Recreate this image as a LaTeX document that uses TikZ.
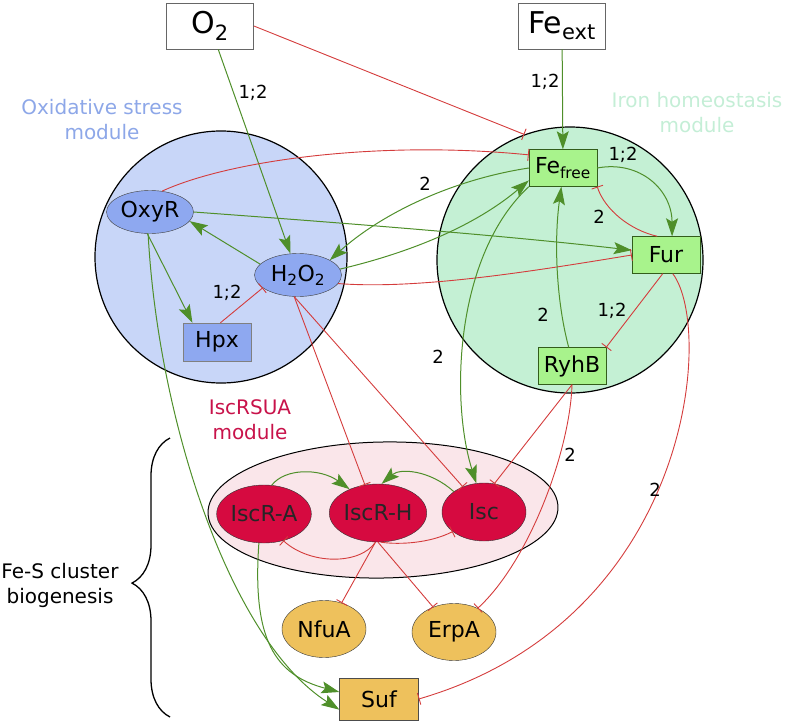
\documentclass[tikz,border=0pt]{standalone}
\usepackage{fontspec}
\setmainfont{DejaVu Sans}
\usepackage{tikz}
\usetikzlibrary{arrows.meta}
\usetikzlibrary{shapes.geometric}
\usetikzlibrary{decorations.pathreplacing}

\definecolor{oxmodfill}{HTML}{C8D6F8}
\definecolor{oxnodefill}{HTML}{8EA8F0}
\definecolor{femodfill}{HTML}{C4F0D4}
\definecolor{fenodefill}{HTML}{A8F38C}
\definecolor{iscmodfill}{HTML}{FAE6EA}
\definecolor{iscnodefill}{HTML}{D60A40}
\definecolor{fesnodefill}{HTML}{EEC15C}
\definecolor{actgreen}{HTML}{4F8F2A}
\definecolor{inhred}{HTML}{D43C3C}
\definecolor{oxlabel}{HTML}{8DA7E8}
\definecolor{felabel}{HTML}{C4EED6}
\definecolor{isclabel}{HTML}{C8124A}

\begin{document}
\begin{tikzpicture}[x=1pt,y=-1pt,
  font=\fontsize{22}{26}\selectfont,
  modcircle/.style={circle,draw=black,line width=1.2pt,inner sep=0pt},
  extbox/.style={draw=black!60,fill=white,line width=0.8pt,minimum width=87pt,minimum height=46pt,inner sep=0pt,font=\fontsize{30}{36}\selectfont},
  oxnode/.style={ellipse,draw=black!75,fill=oxnodefill,minimum width=87pt,minimum height=43pt,inner sep=0pt},
  oxbox/.style={draw=black!50,fill=oxnodefill,minimum width=68pt,minimum height=38pt,inner sep=0pt},
  febox/.style={draw=black!35!actgreen,fill=fenodefill,minimum width=68pt,minimum height=37pt,inner sep=0pt},
  iscnode/.style={ellipse,draw=black!80,fill=iscnodefill,text=black!85,minimum width=84pt,minimum height=58pt,inner sep=0pt},
  fesnode/.style={ellipse,draw=black!80,fill=fesnodefill,minimum width=84pt,minimum height=57pt,inner sep=0pt},
  sufbox/.style={draw=black!70,fill=fesnodefill,minimum width=79pt,minimum height=42pt,inner sep=0pt},
  act/.style={draw=actgreen,line width=1pt,-{Stealth[length=18pt,width=12pt,inset=3.5pt]}},
  inh/.style={draw=inhred,line width=0.9pt,-{Bar[width=12pt,line width=0.9pt]}},
  modlabel/.style={align=center,font=\fontsize{20}{25}\selectfont},
  numlabel/.style={font=\fontsize{18}{22}\selectfont}]
      \useasboundingbox (0,0) rectangle (785,723);
      % Module
      \node[modcircle,fill=oxmodfill,minimum size=252pt] (oxmod) at (221,257) {};
      \node[modcircle,fill=femodfill,minimum size=266pt] (femod) at (570,260) {};
      \node[ellipse,draw=black,line width=1pt,fill=iscmodfill,rotate=1,minimum width=350pt,minimum height=136pt] (iscmod) at (383,510) {};
      \node[modlabel,text=oxlabel] (oxlab) at (102,120) {Oxidative stress\\module};
      \node[modlabel,text=felabel] (felab) at (697,113) {Iron homeostasis\\module};
      \node[modlabel,text=isclabel] (isclab) at (250,420) {IscRSUA\\module};
      \node[modlabel] (feslab) at (60,585) {Fe-S cluster\\biogenesis};
      \draw[decorate,decoration={brace,amplitude=38pt,aspect=0.48},line width=1.3pt] (170,717) -- (170,438);
      % Knoten
      \node[extbox] (o2) at (210,26) {O\textsubscript{2}};
      \node[extbox] (feext) at (562,26) {Fe\textsubscript{ext}};
      \node[oxnode] (oxyr) at (150,212) {OxyR};
      \node[oxnode] (hto) at (298,275) {H\textsubscript{2}O\textsubscript{2}};
      \node[oxbox] (hpx) at (217,342) {Hpx};
      \node[febox] (fefree) at (563,168) {Fe\textsubscript{free}};
      \node[febox] (fur) at (666,255) {Fur};
      \node[febox] (ryhb) at (572,366) {RyhB};
      \node[iscnode] (iscra) at (264,514) {IscR-A};
      \node[iscnode] (iscrh) at (378,513) {IscR-H};
      \node[iscnode] (isc) at (484,512) {Isc};
      \node[fesnode] (nfua) at (324,629) {NfuA};
      \node[fesnode] (erpa) at (454,632) {ErpA};
      \node[sufbox] (suf) at (379,699) {Suf};
      % Aktivierung / Hemmung
      \draw[act] (o2) -- (hto);
      \draw[inh] (o2.east) -- (femod.110);
      \draw[act] (feext) -- (fefree);
      \draw[inh] (oxyr.60) .. controls (230,160) and (380,140) .. (fefree.159);
      \draw[act] (oxyr.east) .. controls (330,222) and (500,235) .. (fur.172);
      \draw[act] (oxyr.-97) -- (hpx.142);
      \draw[act] (oxyr.-95) .. controls (158,420) and (230,640) .. (suf.-165);
      \draw[act] (hto.164) -- (oxyr.-13);
      \draw[inh] (hpx.80) -- (hto.-160);
      \draw[act] (hto.8) .. controls (400,255) and (470,230) .. (fefree.-160);
      \draw[act] (fefree.west) .. controls (450,180) and (380,215) .. (hto.25);
      \draw[inh] (hto.-12) .. controls (420,290) and (540,270) .. (fur.west);
      \draw[act] (fefree.east) .. controls (640,160) and (672,190) .. (fur.72);
      \draw[inh] (fur.115) .. controls (630,230) and (605,210) .. (fefree.south east);
      \draw[inh] (fur.-100) -- (ryhb.north east);
      \draw[act] (ryhb.100) .. controls (556,300) and (554,240) .. (fefree.-95);
      \draw[act] (fefree.south west) .. controls (455,255) and (450,400) .. (isc.105);
      \draw[inh] (fur.-70) .. controls (715,330) and (690,620) .. (suf.east);
      \draw[inh] (ryhb.south) -- (isc.70);
      \draw[inh] (ryhb.south) .. controls (570,450) and (530,560) .. (erpa.45);
      \draw[inh] (hto.-100) -- (iscrh.115);
      \draw[inh] (hto.-100) -- (isc.130);
      \draw[act] (iscra.75) .. controls (285,468) and (320,468) .. (iscrh.140);
      \draw[act] (isc.146) .. controls (430,470) and (400,468) .. (iscrh.83);
      \draw[inh] (iscrh.-95) .. controls (360,565) and (310,565) .. (iscra.-54);
      \draw[inh] (iscrh.-85) .. controls (400,545) and (430,543) .. (isc.-148);
      \draw[inh] (iscrh.-95) -- (nfua.56);
      \draw[inh] (iscrh.-90) -- (erpa.130);
      \draw[act] (iscra.-100) .. controls (252,640) and (275,675) .. (suf.170);
      % Beschriftung
      \foreach \x/\y/\ltext [count=\i] in {253/93/{1;2},545/82/{1;2},227/293/{1;2},425/184/2,623/155/{1;2},599/217/2,612/311/{1;2},543/315/2,438/357/2,570/455/2,655/490/2}
      \node[numlabel] (lab\i) at (\x,\y) {\ltext};
\end{tikzpicture}
\end{document}
